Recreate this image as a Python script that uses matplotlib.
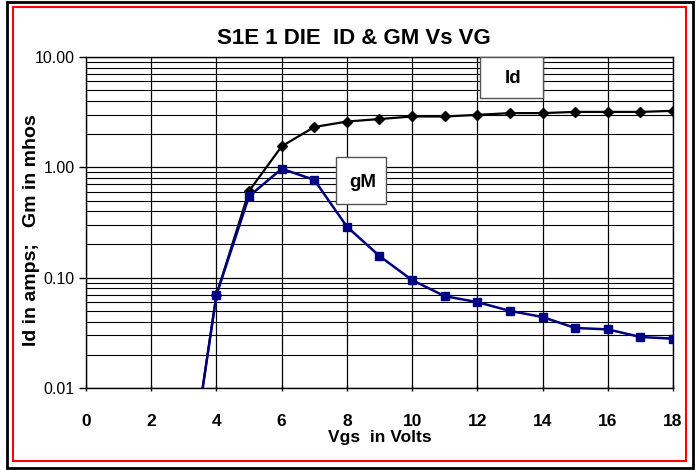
import numpy as np
import matplotlib
matplotlib.use("Agg")
import matplotlib.pyplot as plt
from matplotlib.patches import Rectangle
from matplotlib.ticker import FixedLocator, LogLocator, NullFormatter

plt.rcParams['font.family'] = ['Liberation Sans', 'DejaVu Sans']

# data
vgs = [3, 4, 5, 6, 7, 8, 9, 10, 11, 12, 13, 14, 15, 16, 17, 18]
id_amps = [0.0007, 0.070, 0.61, 1.55, 2.32, 2.60, 2.74, 2.89, 2.89, 2.99,
           3.10, 3.10, 3.18, 3.18, 3.18, 3.25]
gm_mhos = [0.0007, 0.070, 0.547, 0.97, 0.77, 0.29, 0.157, 0.095, 0.068, 0.060,
           0.050, 0.044, 0.035, 0.034, 0.029, 0.028]
xticks = [0, 2, 4, 6, 8, 10, 12, 14, 16, 18]
yticks = [0.01, 0.1, 1, 10]
ytick_labels = ["0.01", "0.10", "1.00", "10.00"]

W, H = 699, 470
fig = plt.figure(figsize=(W / 100, H / 100), dpi=100)
ax = fig.add_axes([86/W, 1 - 388/H, (673 - 86)/W, (388 - 57)/H])

# frame round the whole chart
fig.patches.append(Rectangle((7/W, 2/H), 686/W, 466/H, transform=fig.transFigure,
                             fill=False, edgecolor='black', linewidth=2.0))
fig.patches.append(Rectangle((13/W, 9/H), 673/W, 454/H, transform=fig.transFigure,
                             fill=False, edgecolor='red', linewidth=1.5))

ax.set_yscale('log')
ax.set_xlim(0, 18)
ax.set_ylim(0.01, 10)

ax.plot(vgs, id_amps, color='black', linewidth=1.6, marker='D', markersize=4.8,
        zorder=3)
ax.plot(vgs, gm_mhos, color='#000080', linewidth=1.8, marker='s', markersize=5.5,
        zorder=4)

ax.xaxis.set_major_locator(FixedLocator(xticks))
ax.set_xticklabels([str(t) for t in xticks], fontsize=12.5, fontweight='bold')
ax.yaxis.set_major_locator(FixedLocator(yticks))
ax.set_yticklabels(ytick_labels, fontsize=11.5)
ax.yaxis.set_minor_locator(LogLocator(base=10, subs=np.arange(2, 10), numticks=20))
ax.yaxis.set_minor_formatter(NullFormatter())
ax.tick_params(axis='y', which='minor', length=0)
ax.tick_params(axis='y', which='major', length=5, direction='out', width=1, pad=3)
ax.tick_params(axis='x', which='major', length=5, direction='inout', width=1, pad=16)

ax.grid(True, which='major', axis='both', color='black', linewidth=0.9)
ax.grid(True, which='minor', axis='y', color='black', linewidth=0.8)
ax.set_axisbelow(True)
for s in ax.spines.values():
    s.set_linewidth(1.0)

ax.set_xlabel("Vgs  in Volts", fontsize=12.5, fontweight='bold', labelpad=1)
fig.text(32/W, 1 - 230/H, "Id in amps;   Gm in mhos", rotation=90,
         ha='center', va='center', fontsize=14, fontweight='bold')
fig.text(354/W, 1 - 38/H, "S1E 1 DIE  ID & GM Vs VG",
         ha='center', va='center', fontsize=16, fontweight='bold')

# series labels in boxes
ax.add_patch(Rectangle((12.09, 4.27), 1.93, 10 - 4.27, facecolor='white',
                       edgecolor='#555555', linewidth=1.0, zorder=5, clip_on=False))
ax.text(13.1, 6.4, "Id", ha='center', va='center', fontsize=13.5, fontweight='bold',
        zorder=6)
ax.add_patch(Rectangle((7.67, 0.47), 1.53, 1.24 - 0.47, facecolor='white',
                       edgecolor='#555555', linewidth=1.0, zorder=5))
ax.text(8.5, 0.73, "gM", ha='center', va='center', fontsize=13.5, fontweight='bold',
        zorder=6)

fig.savefig("out.png", dpi=100)
